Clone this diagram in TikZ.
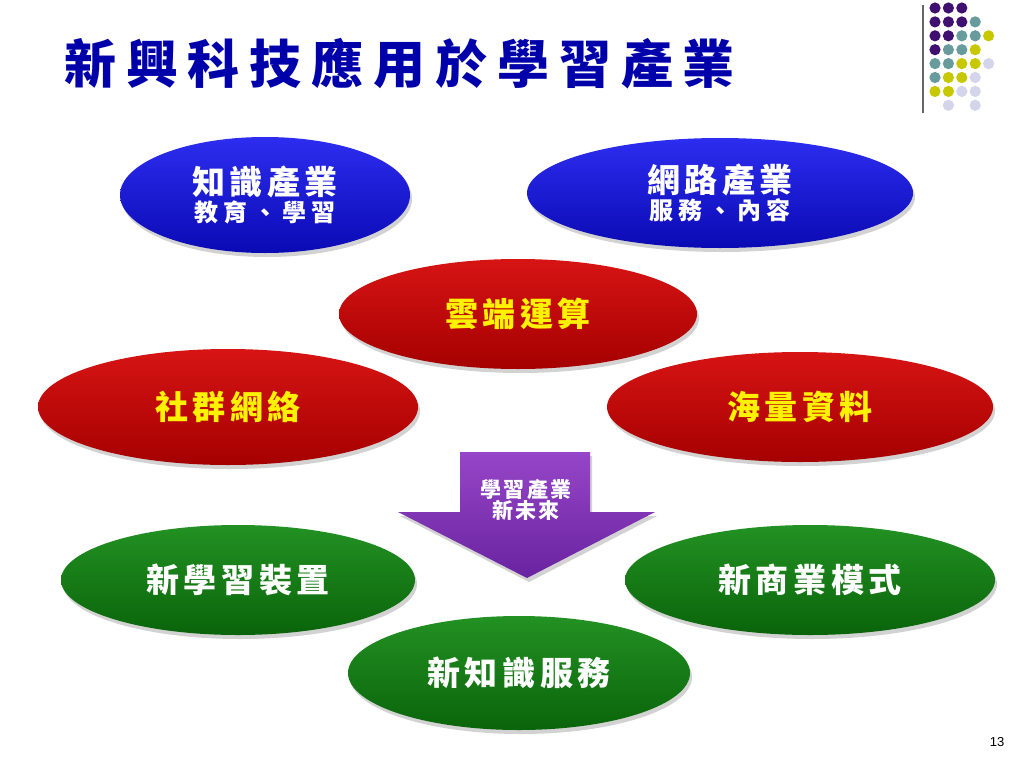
\documentclass[tikz,border=0pt]{standalone}
\usepackage{fontspec}
\setmainfont{Liberation Sans}
\newfontfamily\cjk{Noto Sans CJK TC}
\usetikzlibrary{shapes.geometric,shadows}
\definecolor{titleblue}{RGB}{0,0,170}
\definecolor{dpurple}{RGB}{64,16,112}
\definecolor{dteal}{RGB}{104,156,156}
\definecolor{dyellow}{RGB}{200,200,0}
\definecolor{dlav}{RGB}{212,212,234}
\definecolor{bluetop}{RGB}{45,45,240}
\definecolor{bluebot}{RGB}{10,10,180}
\definecolor{redtop}{RGB}{215,20,20}
\definecolor{redbot}{RGB}{165,0,0}
\definecolor{greentop}{RGB}{35,145,35}
\definecolor{greenbot}{RGB}{10,100,10}
\definecolor{arrtop}{RGB}{150,70,200}
\definecolor{arrbot}{RGB}{105,35,160}
\begin{document}
\begin{tikzpicture}[x=1pt,y=-1pt,
  ell/.style={ellipse, inner sep=0pt, align=center, font=\cjk\bfseries,
    drop shadow={shadow xshift=2pt, shadow yshift=-4pt, opacity=0.35}},
  blueell/.style={ell, top color=bluetop, bottom color=bluebot, text=white},
  redell/.style={ell, top color=redtop, bottom color=redbot, text=yellow},
  greenell/.style={ell, top color=greentop, bottom color=greenbot, text=white}
]
\useasboundingbox[fill=white] (0,0) rectangle (1024,768);
% title
\node[anchor=west, text=titleblue, inner sep=0pt] (title) at (64,64)
  {\cjk\bfseries\fontsize{52}{60}\selectfont\addfontfeatures{LetterSpace=19}新興科技應用於學習產業};
% decoration line and dots
\coordinate (lt) at (923,5);
\coordinate (lb) at (923,113);
\draw[line width=2pt, gray!80!black] (lt) -- (lb);
\foreach \r/\cols in {0/{dpurple,dpurple,dpurple,white,white},
                      1/{dpurple,dpurple,dpurple,dteal,white},
                      2/{dpurple,dpurple,dteal,dteal,dyellow},
                      3/{dpurple,dteal,dteal,dyellow,white},
                      4/{dteal,dteal,dyellow,dyellow,dlav},
                      5/{dteal,dyellow,dyellow,dlav,white},
                      6/{dyellow,dyellow,dlav,dlav,white},
                      7/{white,dlav,white,dlav,white}}{
  \foreach \c [count=\i from 0] in \cols {
    \fill[\c] (935+13.4*\i,8+13.9*\r) circle (5.6);
  }
}
% ellipses
\node[blueell, minimum width=290pt, minimum height=116pt] (zs) at (265,195)
  {{\fontsize{33}{40}\selectfont\addfontfeatures{LetterSpace=14}知識產業}\\[2pt]{\fontsize{24}{27}\selectfont\addfontfeatures{LetterSpace=22}教育、學習}};
\node[blueell, minimum width=386pt, minimum height=110pt] (wl) at (720,193)
  {{\fontsize{33}{40}\selectfont\addfontfeatures{LetterSpace=14}網路產業}\\[2pt]{\fontsize{24}{27}\selectfont\addfontfeatures{LetterSpace=22}服務、內容}};
\node[redell, minimum width=358pt, minimum height=110pt] (yd) at (518,314)
  {\fontsize{33}{38}\selectfont\addfontfeatures{LetterSpace=14}雲端運算};
\node[redell, minimum width=380pt, minimum height=116pt] (sq) at (228,407)
  {\fontsize{33}{38}\selectfont\addfontfeatures{LetterSpace=14}社群網絡};
\node[redell, minimum width=386pt, minimum height=110pt] (hl) at (800,407)
  {\fontsize{33}{38}\selectfont\addfontfeatures{LetterSpace=14}海量資料};
\node[greenell, minimum width=354pt, minimum height=110pt] (xx) at (238,580)
  {\fontsize{33}{38}\selectfont\addfontfeatures{LetterSpace=14}新學習裝置};
\node[greenell, minimum width=370pt, minimum height=110pt] (xs) at (810,580)
  {\fontsize{33}{38}\selectfont\addfontfeatures{LetterSpace=14}新商業模式};
\node[greenell, minimum width=342pt, minimum height=114pt] (xz) at (519,673)
  {\fontsize{33}{38}\selectfont\addfontfeatures{LetterSpace=14}新知識服務};
% arrow
\path[top color=arrtop, bottom color=arrbot, drop shadow={shadow xshift=2pt, shadow yshift=-4pt, opacity=0.35}]
  (460,452) -- (590,452) -- (590,512) -- (655,512) -- (527,578) -- (398,512) -- (460,512) -- cycle;
\node[text=white, align=center, font=\cjk\bfseries, inner sep=0pt] (arrtext) at (526,500)
  {{\fontsize{21}{28}\selectfont\addfontfeatures{LetterSpace=10}學習產業}\\{\fontsize{21}{28}\selectfont\addfontfeatures{LetterSpace=10}新未來}};
% page number
\node[font=\fontsize{13}{15}\selectfont, inner sep=0pt] (pg) at (997,742) {13};
\end{tikzpicture}
\end{document}
